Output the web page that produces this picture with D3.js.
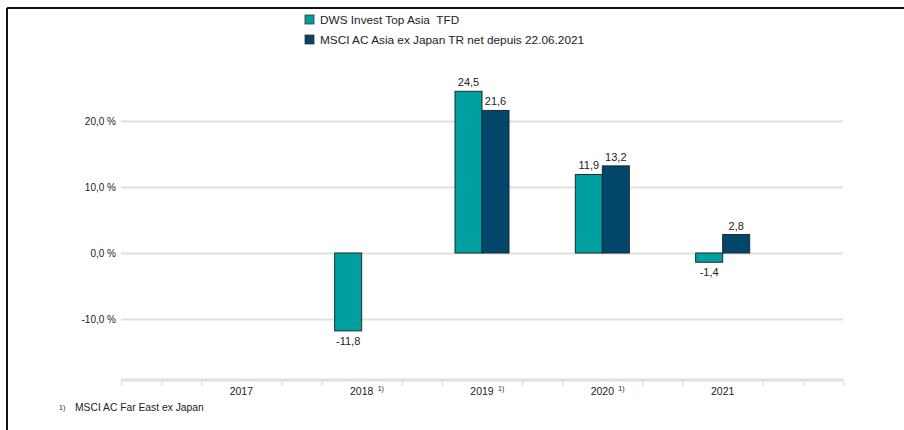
<!DOCTYPE html>
<html>
<head>
<meta charset="utf-8">
<script src="https://cdn.jsdelivr.net/npm/d3@7"></script>
<style>
  body { margin: 0; background: #fff; }
  svg { font-family: "Liberation Sans", Arial, sans-serif; }
</style>
</head>
<body>
<div id="chart"></div>
<script>
// data
var years = [2017, 2018, 2019, 2020, 2021];
var yearNotes = ["", "1)", "1)", "1)", ""];
var fundValues = [null, -11.8, 24.5, 11.9, -1.4];
var indexValues = [null, null, 21.6, 13.2, 2.8];
var seriesNames = ["DWS Invest Top Asia  TFD", "MSCI AC Asia ex Japan TR net depuis 22.06.2021"];
var seriesColors = ["#00a0a0", "#00476b"];
var yTicks = [-10, 0, 10, 20];
var footnote = "MSCI AC Far East ex Japan";

var W = 904, H = 430;

var svg = d3.select("#chart")
  .append("svg")
    .attr("width", W)
    .attr("height", H);

// frame (only top and left edge visible)
svg.append("line").attr("x1", 7).attr("x2", W).attr("y1", 8).attr("y2", 8)
  .style("stroke", "#111").style("stroke-width", 2);
svg.append("line").attr("x1", 7).attr("x2", 7).attr("y1", 8).attr("y2", H)
  .style("stroke", "#111").style("stroke-width", 2);

// scales
var x = d3.scaleLinear().domain([2016, 2022]).range([121, 843]);
var y = d3.scaleLinear().domain([-20, 30]).range([385, 55]);
var barW = 27;

// grid lines
svg.append("g")
  .selectAll("line")
  .data(yTicks)
  .enter()
  .append("line")
    .attr("x1", 121).attr("x2", 843)
    .attr("y1", function (d) { return Math.round(y(d)) + 0.5 })
    .attr("y2", function (d) { return Math.round(y(d)) + 0.5 })
    .style("stroke", "#e3e0d8")
    .style("stroke-width", 2);

// y tick labels
svg.append("g")
  .selectAll("text")
  .data(yTicks)
  .enter()
  .append("text")
    .attr("x", 116)
    .attr("y", function (d) { return y(d) })
    .attr("dy", "0.35em")
    .attr("text-anchor", "end")
    .style("font-size", "10px")
    .style("fill", "#222")
    .text(function (d) { return d3.format(".1f")(d).replace(".", ",").replace("−", "-") + " %" });

// x axis: line with ticks every third of a year
var xAxis = d3.axisBottom(x)
  .tickValues(d3.range(2016, 2022 + 0.001, 1 / 3))
  .tickSize(6)
  .tickFormat("");
var gx = svg.append("g")
  .attr("transform", "translate(0," + (y(-20) - 5) + ")")
  .call(xAxis);
gx.select(".domain").remove();
gx.selectAll(".tick line").style("stroke", "#e3e0d8").style("stroke-width", 1.5);
gx.selectAll(".tick").filter(function (d) {
  var r = Math.round(d * 3) % 3; return r === 0 && d > 2016.5 && d < 2021.5;
}).remove();
svg.append("line")
  .attr("x1", x(2016)).attr("x2", x(2022))
  .attr("y1", y(-20) - 5).attr("y2", y(-20) - 5)
  .style("stroke", "#e3e0d8").style("stroke-width", 3);

// year labels
var yl = svg.append("g")
  .selectAll("g")
  .data(years)
  .enter()
  .append("g");
yl.append("text")
  .attr("x", function (d) { return x(d) })
  .attr("y", y(-20) + 10)
  .attr("text-anchor", "middle")
  .style("font-size", "10.5px")
  .style("fill", "#222")
  .text(function (d) { return d });
yl.append("text")
  .attr("x", function (d) { return x(d) + 16 })
  .attr("y", y(-20) + 6)
  .style("font-size", "7px")
  .style("fill", "#222")
  .text(function (d, i) { return yearNotes[i] });

// bars
var allSeries = [fundValues, indexValues];
allSeries.forEach(function (vals, s) {
  var pts = years.map(function (yr, i) { return {year: yr, v: vals[i]} })
    .filter(function (p) { return p.v !== null });
  var g = svg.append("g");
  g.selectAll("rect")
    .data(pts)
    .enter()
    .append("rect")
      .attr("x", function (d) { return x(d.year) - barW + s * barW })
      .attr("y", function (d) { return y(Math.max(0, d.v)) })
      .attr("width", barW)
      .attr("height", function (d) { return Math.abs(y(d.v) - y(0)) })
      .style("fill", seriesColors[s])
      .style("stroke", "#1d2b30")
      .style("stroke-width", 1);
  g.selectAll("text")
    .data(pts)
    .enter()
    .append("text")
      .attr("x", function (d) { return x(d.year) - barW / 2 + s * barW })
      .attr("y", function (d) { return d.v >= 0 ? y(d.v) - 5 : y(d.v) + 14 })
      .attr("text-anchor", "middle")
      .style("font-size", "11px")
      .style("fill", "#222")
      .text(function (d) { return d3.format(".1f")(d.v).replace(".", ",").replace("−", "-") });
});

// legend
seriesNames.forEach(function (name, i) {
  svg.append("rect").attr("x", 305).attr("y", 15 + i * 20).attr("width", 9).attr("height", 9)
    .style("fill", seriesColors[i]).style("stroke", "#333").style("stroke-width", 0.8);
  svg.append("text").attr("x", 320).attr("y", 20 + i * 20).attr("dy", "0.35em")
    .style("font-size", "11.8px").style("fill", "#222").style("white-space", "pre").text(name);
});

// footnote
svg.append("text").attr("x", 59).attr("y", 410).style("font-size", "7px").style("fill", "#222").text("1)");
svg.append("text").attr("x", 75).attr("y", 411).style("font-size", "10.3px").style("fill", "#222").text(footnote);
</script>
</body>
</html>
